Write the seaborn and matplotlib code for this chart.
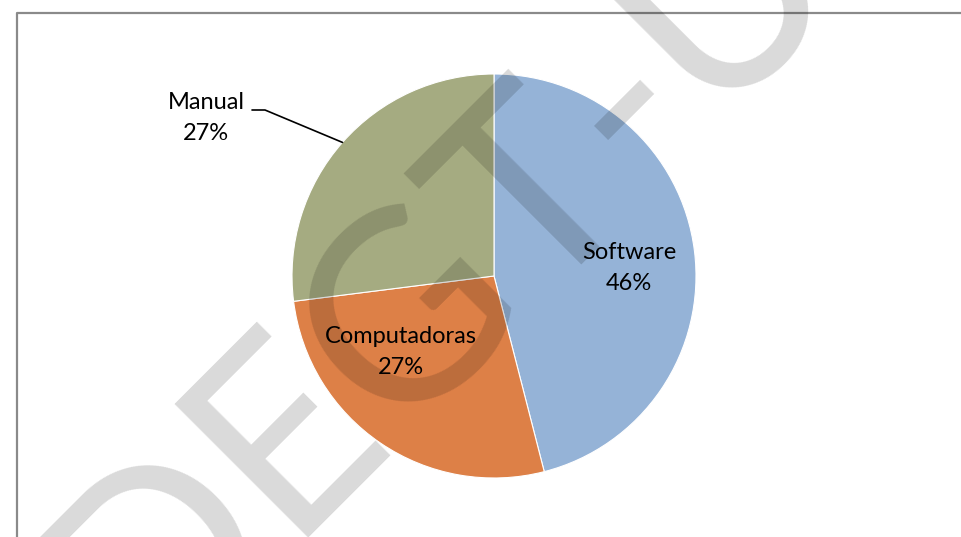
import numpy as np
import matplotlib.pyplot as plt
import seaborn as sns

# data
categories = ["Software", "Computadoras", "Manual"]
shares = [46, 27, 27]
colors = ["#95B3D7", "#DD8047", "#A5AB81"]

W, H = 961, 537

sns.set_theme(style="white")
plt.rcParams['font.family'] = ['Lato', 'DejaVu Sans']

fig = plt.figure(figsize=(W / 100, H / 100), dpi=100)
ax = fig.add_axes([0, 0, 1, 1])

# chart frame (cut by the image on the right and bottom)
ax.plot([16.5, 16.5, W + 5], [-5, H - 12.5, H - 12.5], color="#8a8a8a", lw=1.6,
        solid_capstyle='butt', zorder=1)

cx, cy, r = 494, H - 276, 202
wedges, _ = ax.pie(shares, colors=colors, startangle=90, counterclock=False,
                   center=(cx, cy), radius=r, frame=True,
                   wedgeprops=dict(edgecolor="white", linewidth=0.8))
ax.set_xlim(0, W)
ax.set_ylim(0, H)
ax.set_aspect('equal')
ax.axis('off')

# labels: two inside, one outside with a leader line
pcts = [f"{s}%" for s in shares]
inside = {"Software": (629, 268), "Computadoras": (401, 352)}
for w, name, pct in zip(wedges, categories, pcts):
    if name in inside:
        x, y = inside[name]
        ax.text(x, H - y, f"{name}\n{pct}", ha='center', va='center',
                fontsize=17, color="black", linespacing=1.55, zorder=5)
    else:
        mid = np.deg2rad((w.theta1 + w.theta2) / 2)
        ex, ey = cx + r * np.cos(mid), cy + r * np.sin(mid)
        ax.plot([252, 265, ex], [H - 110, H - 110, ey], color="black", lw=1.2,
                zorder=5)
        ax.text(206, H - 118, f"{name}\n{pct}", ha='center', va='center',
                fontsize=17, color="black", linespacing=1.55, zorder=5)

# draft watermark across the page
ax.text(442, H - 274, "DEGT-U", rotation=45, rotation_mode='anchor',
        ha='center', va='center', fontsize=190, color="black", alpha=0.15,
        zorder=4)

fig.savefig("out.png", dpi=100, facecolor="white")
